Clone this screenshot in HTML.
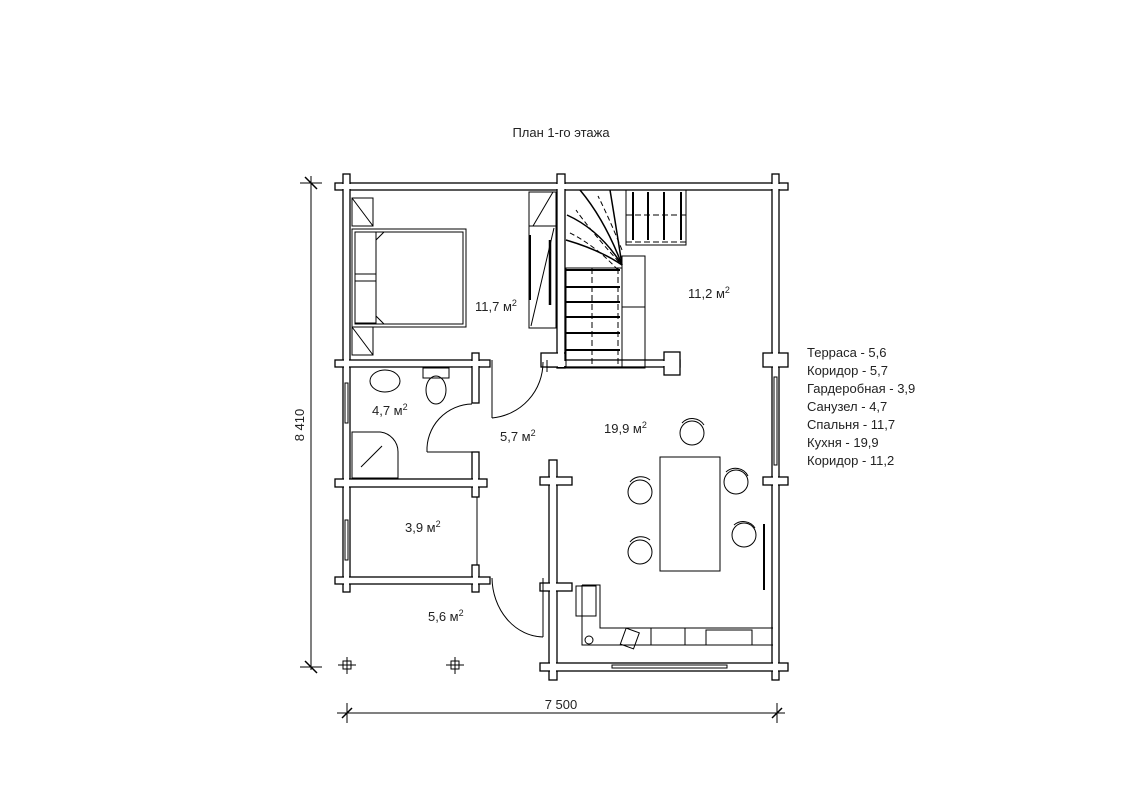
<!DOCTYPE html>
<html><head><meta charset="utf-8"><style>
html,body{margin:0;padding:0;background:#fff}
svg{display:block}
text{font-family:"Liberation Sans",sans-serif;fill:#222}
</style></head><body>
<svg width="1123" height="794" viewBox="0 0 1123 794" xmlns="http://www.w3.org/2000/svg">
<text x="561" y="137" font-size="13" text-anchor="middle">План 1-го этажа</text>

<!-- walls: outline pass -->
<g id="w" stroke="#000" stroke-width="1.3" fill="#fff">
<rect x="335" y="183" width="453" height="7"/>
<rect x="343" y="174" width="7" height="418"/>
<rect x="772" y="174" width="7" height="506"/>
<rect x="557" y="174" width="8" height="194"/>
<rect x="335" y="360" width="155" height="7"/>
<rect x="472" y="353" width="7" height="50"/>
<rect x="547" y="360" width="133" height="7"/>
<rect x="664" y="352" width="16" height="23"/>
<rect x="541" y="353" width="24" height="14"/>
<rect x="763" y="353" width="25" height="14"/>
<rect x="472" y="452" width="7" height="45"/>
<rect x="335" y="479" width="152" height="8"/>
<rect x="472" y="565" width="7" height="27"/>
<rect x="335" y="577" width="155" height="7"/>
<rect x="549" y="460" width="8" height="220"/>
<rect x="540" y="477" width="32" height="8"/>
<rect x="540" y="583" width="32" height="8"/>
<rect x="763" y="477" width="25" height="8"/>
<rect x="540" y="663" width="248" height="8"/>
</g>
<g fill="#fff">
<rect x="336" y="184" width="451" height="5"/>
<rect x="344" y="175" width="5" height="416"/>
<rect x="773" y="175" width="5" height="504"/>
<rect x="558" y="175" width="6" height="192"/>
<rect x="336" y="361" width="153" height="5"/>
<rect x="473" y="354" width="5" height="48"/>
<rect x="548" y="361" width="131" height="5"/>
<rect x="665" y="353" width="14" height="21"/>
<rect x="542" y="354" width="22" height="12"/>
<rect x="764" y="354" width="23" height="12"/>
<rect x="473" y="453" width="5" height="43"/>
<rect x="336" y="480" width="150" height="6"/>
<rect x="473" y="566" width="5" height="25"/>
<rect x="336" y="578" width="153" height="5"/>
<rect x="550" y="461" width="6" height="218"/>
<rect x="541" y="478" width="30" height="6"/>
<rect x="541" y="584" width="30" height="6"/>
<rect x="764" y="478" width="23" height="6"/>
<rect x="541" y="664" width="246" height="6"/>
</g>

<g stroke="#000" stroke-width="1" fill="none">
<!-- windows -->
<rect x="345" y="383" width="3" height="40"/>
<rect x="345" y="520" width="3" height="40"/>
<rect x="774" y="377" width="3" height="88"/>
<rect x="612" y="665" width="115" height="3"/>
<!-- corridor door -->
<line x1="492" y1="360" x2="492" y2="418"/>
<path d="M492 418 A56 56 0 0 0 543 362"/>
<line x1="547" y1="360" x2="547" y2="372"/>
<!-- bath door -->
<line x1="427" y1="452" x2="472" y2="452"/>
<path d="M427 452 A46 46 0 0 1 472 404"/>
<!-- closet door -->
<line x1="477" y1="497" x2="477" y2="565"/>
<!-- terrace door -->
<line x1="543" y1="578" x2="543" y2="637"/>
<path d="M492 578 A52 60 0 0 0 543 637"/>
<!-- stair -->
<rect x="566" y="268" width="56" height="100"/>
<g stroke-width="2"><line x1="566" y1="270" x2="620" y2="270"/><line x1="566" y1="287" x2="620" y2="287"/><line x1="566" y1="302" x2="620" y2="302"/><line x1="566" y1="317" x2="620" y2="317"/><line x1="566" y1="333" x2="620" y2="333"/><line x1="566" y1="350" x2="620" y2="350"/></g>
<line x1="592" y1="268" x2="592" y2="365" stroke-dasharray="6,3"/>
<line x1="618" y1="268" x2="618" y2="365" stroke-dasharray="6,3"/>
<rect x="622" y="256" width="23" height="112"/>
<line x1="622" y1="307" x2="645" y2="307"/>
<rect x="626" y="190" width="60" height="55"/>
<g stroke-width="2"><line x1="633" y1="192" x2="633" y2="240"/><line x1="648" y1="192" x2="648" y2="240"/><line x1="664" y1="192" x2="664" y2="240"/><line x1="681" y1="192" x2="681" y2="240"/></g>
<line x1="626" y1="215" x2="688" y2="215" stroke-dasharray="6,3"/>
<line x1="626" y1="242" x2="688" y2="242" stroke-dasharray="6,3"/>
<g stroke-width="1.5">
<path d="M622 265 Q600 250 566 240"/><path d="M622 265 Q600 230 567 215"/><path d="M622 265 Q605 220 580 190"/><path d="M622 265 Q615 220 610 190"/>
</g>
<g stroke-dasharray="5,3"><path d="M619 262 Q590 230 576 210"/><path d="M622 250 Q610 220 598 196"/><path d="M618 270 Q595 245 568 232"/></g>
<!-- wardrobe -->
<rect x="529" y="192" width="27" height="136"/>
<line x1="529" y1="226" x2="556" y2="226"/>
<line x1="533" y1="226" x2="553" y2="192"/><line x1="531" y1="326" x2="554" y2="228"/>
<line x1="550" y1="240" x2="550" y2="305" stroke-width="2.5"/>
<line x1="530" y1="235" x2="530" y2="300" stroke-width="2"/>
<!-- bed -->
<rect x="352" y="229" width="114" height="98"/><rect x="355" y="232" width="108" height="92"/>
<rect x="355" y="232" width="21" height="42"/><rect x="355" y="281" width="21" height="42"/>
<path d="M376 240 L384 232 L463 232 L463 324 L384 324 L376 316 Z"/>
<rect x="352" y="198" width="21" height="28"/><line x1="352" y1="198" x2="373" y2="226"/>
<rect x="352" y="327" width="21" height="28"/><line x1="352" y1="327" x2="373" y2="355"/>
<!-- bath -->
<ellipse cx="385" cy="381" rx="15" ry="11"/>
<rect x="423" y="368" width="26" height="10"/>
<ellipse cx="436" cy="390" rx="10" ry="14"/>
<path d="M352 432 L380 432 A20 20 0 0 1 398 452 L398 478 L352 478 Z"/>
<line x1="361" y1="467" x2="382" y2="446"/>
<!-- kitchen -->
<rect x="660" y="457" width="60" height="114"/>
<circle cx="640" cy="492" r="12"/><circle cx="640" cy="552" r="12"/>
<circle cx="736" cy="482" r="12"/><circle cx="744" cy="535" r="12"/>
<circle cx="692" cy="433" r="12"/>
<path d="M630 482 A14 14 0 0 1 650 480 M630 542 A14 14 0 0 1 650 540 M726 472 A14 14 0 0 1 748 476 M734 525 A14 14 0 0 1 755 528 M682 423 A14 14 0 0 1 704 425"/>
<line x1="764" y1="524" x2="764" y2="590" stroke-width="2"/>
<path d="M582 585 L600 585 L600 628 L773 628 M582 585 L582 645 L773 645"/>
<rect x="576" y="586" width="20" height="30"/>
<rect x="651" y="628" width="34" height="17"/>
<rect x="706" y="630" width="46" height="15"/>
<circle cx="589" cy="640" r="4"/>
<rect x="623" y="630" width="14" height="17" transform="rotate(20 630 638)"/>
<!-- dimensions -->
<line x1="311" y1="176" x2="311" y2="670"/>
<line x1="300" y1="183" x2="322" y2="183"/><line x1="305" y1="177" x2="317" y2="189" stroke-width="1.5"/>
<line x1="300" y1="667" x2="322" y2="667"/><line x1="305" y1="661" x2="317" y2="673" stroke-width="1.5"/>
<line x1="337" y1="713" x2="785" y2="713"/>
<line x1="347" y1="703" x2="347" y2="723"/><line x1="342" y1="718" x2="352" y2="708" stroke-width="1.5"/>
<line x1="777" y1="703" x2="777" y2="723"/><line x1="772" y1="718" x2="782" y2="708" stroke-width="1.5"/>
<rect x="343" y="661" width="8" height="8"/><line x1="338" y1="665" x2="356" y2="665"/><line x1="347" y1="657" x2="347" y2="674"/>
<rect x="451" y="661" width="8" height="8"/><line x1="446" y1="665" x2="464" y2="665"/><line x1="455" y1="657" x2="455" y2="674"/>
</g>
<rect x="343" y="661" width="8" height="8" fill="none" stroke="#000"/>
<text x="304" y="425" font-size="13" text-anchor="middle" transform="rotate(-90 304 425)">8 410</text>
<text x="561" y="709" font-size="13" text-anchor="middle">7 500</text>

<g font-size="13">
<text x="475" y="311">11,7 м<tspan font-size="9" dy="-5">2</tspan></text>
<text x="688" y="298">11,2 м<tspan font-size="9" dy="-5">2</tspan></text>
<text x="372" y="415">4,7 м<tspan font-size="9" dy="-5">2</tspan></text>
<text x="500" y="441">5,7 м<tspan font-size="9" dy="-5">2</tspan></text>
<text x="604" y="433">19,9 м<tspan font-size="9" dy="-5">2</tspan></text>
<text x="405" y="532">3,9 м<tspan font-size="9" dy="-5">2</tspan></text>
<text x="428" y="621">5,6 м<tspan font-size="9" dy="-5">2</tspan></text>
<text x="807" y="357">Терраса - 5,6</text>
<text x="807" y="375">Коридор - 5,7</text>
<text x="807" y="393">Гардеробная - 3,9</text>
<text x="807" y="411">Санузел - 4,7</text>
<text x="807" y="429">Спальня - 11,7</text>
<text x="807" y="447">Кухня - 19,9</text>
<text x="807" y="465">Коридор - 11,2</text>
</g>
</svg>
</body></html>
